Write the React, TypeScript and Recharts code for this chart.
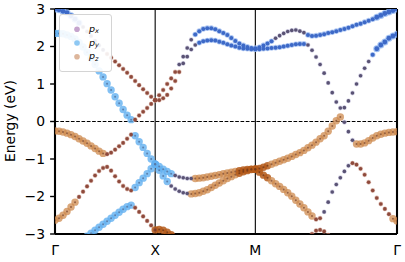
import React from "react";
import { ReferenceLine, Scatter, ScatterChart, XAxis, YAxis } from "recharts";

const FONT = "'DejaVu Sans', sans-serif";

// k-path through the square Brillouin zone
const PATH_LABELS = ["Γ", "X", "M", "Γ"];
const SEG_LENGTHS = [1, 1, Math.SQRT2];
const SEG_STEPS = [25, 25, 35];
const ENERGY_TICKS = [-3, -2, -1, 0, 1, 2, 3];

// Γ → X (26 k-points), energies in eV
const gxA = [3.0, 2.98, 2.94, 2.9, 2.82, 2.73, 2.63, 2.52, 2.4, 2.28, 2.15, 2.03, 1.91, 1.8, 1.7, 1.6, 1.5, 1.4, 1.3, 1.19, 1.08, 0.97, 0.86, 0.76, 0.66, 0.57];
const gxB = [2.35, 2.35, 2.34, 2.31, 2.27, 2.2, 2.11, 1.99, 1.85, 1.69, 1.52, 1.35, 1.19, 1.01, 0.84, 0.66, 0.49, 0.32, 0.17, 0.05, 0.05, 0.16, 0.26, 0.36, 0.47, 0.57];
const gxC = [-0.25, -0.26, -0.28, -0.31, -0.35, -0.4, -0.46, -0.52, -0.58, -0.65, -0.72, -0.79, -0.85, -0.87, -0.83, -0.75, -0.66, -0.57, -0.46, -0.35, -0.38, -0.54, -0.69, -0.85, -1.0, -1.14];
const gxD = [-2.63, -2.58, -2.5, -2.4, -2.28, -2.15, -2.01, -1.87, -1.73, -1.58, -1.44, -1.32, -1.24, -1.21, -1.31, -1.46, -1.6, -1.72, -1.8, -1.84, -1.76, -1.63, -1.51, -1.39, -1.26, -1.14];
const gxE = [null, null, null, null, null, null, null, null, -3.06, -2.98, -2.9, -2.82, -2.74, -2.66, -2.58, -2.5, -2.42, -2.34, -2.27, -2.23, -2.3, -2.41, -2.53, -2.65, -2.77, -2.89];

// X → M (26 k-points)
const xmA = [0.57, 0.7, 0.84, 1.0, 1.15, 1.32, 1.52, 1.73, 1.96, 2.18, 2.32, 2.41, 2.47, 2.49, 2.49, 2.46, 2.41, 2.36, 2.31, 2.23, 2.15, 2.08, 2.03, 1.99, 1.96, 1.95];
const xmB = [0.57, 0.57, 0.62, 0.71, 0.88, 1.08, 1.32, 1.55, 1.73, 1.92, 2.04, 2.1, 2.14, 2.16, 2.17, 2.16, 2.13, 2.1, 2.06, 2.03, 2.0, 1.97, 1.95, 1.94, 1.93, 1.93];
const xmC = [-1.14, -1.2, -1.27, -1.33, -1.39, -1.44, -1.48, -1.5, -1.52, -1.52, -1.52, -1.51, -1.5, -1.48, -1.46, -1.44, -1.42, -1.39, -1.37, -1.35, -1.33, -1.31, -1.29, -1.28, -1.27, -1.27];
const xmD = [-1.14, -1.3, -1.45, -1.6, -1.72, -1.8, -1.86, -1.9, -1.92, -1.93, -1.92, -1.9, -1.86, -1.82, -1.76, -1.7, -1.64, -1.58, -1.52, -1.47, -1.42, -1.38, -1.34, -1.31, -1.28, -1.27];
const xmE = [-2.89, -2.88, -2.9, -2.95, -3.02, -3.1, null, null, null, null, null, null, null, null, null, null, null, null, null, null, null, null, null, null, null, null];

// M → Γ (36 k-points)
const mgA = [1.95, 1.98, 2.03, 2.08, 2.14, 2.22, 2.29, 2.35, 2.4, 2.43, 2.44, 2.41, 2.37, 2.31, 2.28, 2.29, 2.31, 2.33, 2.36, 2.38, 2.41, 2.44, 2.47, 2.5, 2.54, 2.58, 2.61, 2.65, 2.69, 2.73, 2.78, 2.83, 2.88, 2.92, 2.96, 3.0];
const mgB = [1.93, 1.93, 1.94, 1.95, 1.96, 1.97, 1.98, 2.0, 2.02, 2.04, 2.06, 2.07, 2.07, 2.04, 1.9, 1.72, 1.52, 1.29, 1.03, 0.77, 0.52, 0.36, 0.37, 0.55, 0.76, 1.0, 1.22, 1.42, 1.6, 1.78, 1.94, 2.04, 2.12, 2.22, 2.28, 2.33];
const mgC = [-1.27, -1.25, -1.22, -1.18, -1.14, -1.1, -1.06, -1.02, -0.98, -0.93, -0.88, -0.83, -0.77, -0.7, -0.63, -0.55, -0.46, -0.38, -0.26, -0.12, 0.02, 0.12, -0.02, -0.27, -0.5, -0.6, -0.6, -0.57, -0.51, -0.44, -0.38, -0.34, -0.31, -0.29, -0.28, -0.27];
const mgD = [-1.27, -1.35, -1.43, -1.5, -1.58, -1.66, -1.73, -1.81, -1.9, -1.99, -2.1, -2.2, -2.3, -2.41, -2.52, -2.61, -2.58, -2.41, -2.15, -1.88, -1.68, -1.5, -1.33, -1.18, -1.11, -1.15, -1.26, -1.42, -1.62, -1.84, -2.04, -2.2, -2.33, -2.47, -2.59, -2.65];
const mgE = [null, null, null, null, null, null, null, null, null, null, null, null, null, -3.15, -3.0, -2.91, -2.89, -2.93, -3.03, -3.15, null, null, null, null, null, null, null, null, null, null, null, null, null, null, null, null];

// marker looks: [color, radius, opacity] for halo and core
type Look = "py" | "pz" | "pzM" | "mix" | "dk" | "bl" | "blL";
const LOOKS: Record<Look, { halo: [string, number, number]; core: [string, number, number] }> = {
  py: { halo: ["#63b0f0", 3.7, 0.8], core: ["#587aa6", 1.0, 0.9] },
  pz: { halo: ["#cd8a4e", 3.7, 0.75], core: ["#8e5a3c", 1.0, 0.9] },
  pzM: { halo: ["#b45a1a", 3.7, 0.85], core: ["#7a3c18", 1.0, 0.9] },
  mix: { halo: ["#c58c7c", 2.4, 0.6], core: ["#8e4a3c", 1.8, 1] },
  dk: { halo: ["#a9a6cc", 2.4, 0.5], core: ["#5a5374", 1.8, 1] },
  bl: { halo: ["#9dbcf0", 2.8, 0.8], core: ["#3d69c7", 2.0, 1] },
  blL: { halo: ["#8db4f0", 3.5, 0.8], core: ["#3d69c7", 2.4, 1] },
};

type Range = [number, number, Look];
const BANDS: { seg: number; values: (number | null)[]; looks: Range[] }[] = [
  { seg: 0, values: gxA, looks: [[0, 6, "blL"], [7, 12, "dk"], [13, 25, "mix"]] },
  { seg: 0, values: gxB, looks: [[0, 19, "py"], [20, 25, "mix"]] },
  { seg: 0, values: gxC, looks: [[0, 12, "pz"], [13, 19, "mix"], [20, 25, "py"]] },
  { seg: 0, values: gxD, looks: [[0, 5, "pz"], [6, 19, "mix"], [20, 25, "py"]] },
  { seg: 0, values: gxE, looks: [[0, 19, "py"], [20, 25, "mix"]] },
  { seg: 1, values: xmA, looks: [[0, 5, "mix"], [6, 9, "dk"], [10, 25, "bl"]] },
  { seg: 1, values: xmB, looks: [[0, 6, "mix"], [7, 10, "dk"], [11, 25, "bl"]] },
  { seg: 1, values: xmC, looks: [[0, 4, "py"], [5, 9, "dk"], [10, 20, "pz"], [21, 25, "pzM"]] },
  { seg: 1, values: xmD, looks: [[0, 3, "py"], [4, 8, "dk"], [9, 20, "pz"], [21, 25, "pzM"]] },
  { seg: 1, values: xmE, looks: [[0, 25, "pzM"]] },
  { seg: 2, values: mgA, looks: [[0, 4, "bl"], [5, 12, "dk"], [13, 29, "bl"], [30, 35, "blL"]] },
  { seg: 2, values: mgB, looks: [[0, 12, "bl"], [13, 28, "dk"], [29, 29, "bl"], [30, 35, "blL"]] },
  { seg: 2, values: mgC, looks: [[0, 3, "pzM"], [4, 21, "pz"], [22, 24, "dk"], [25, 35, "pz"]] },
  { seg: 2, values: mgD, looks: [[0, 3, "pzM"], [4, 14, "pz"], [15, 16, "mix"], [17, 23, "dk"], [24, 33, "mix"], [34, 35, "pz"]] },
  { seg: 2, values: mgE, looks: [[0, 35, "mix"]] },
];

const SEG_START = SEG_LENGTHS.map((_, i) => SEG_LENGTHS.slice(0, i).reduce((a, b) => a + b, 0));
const K_MAX = SEG_LENGTHS.reduce((a, b) => a + b, 0);
const K_TICKS = [...SEG_START, K_MAX];

const points = BANDS.flatMap((band) =>
  band.values.flatMap((e, i) => {
    if (e == null || Math.abs(e) > 3.2) return [];
    const look = band.looks.find(([a, b]) => i >= a && i <= b)?.[2] ?? "mix";
    const k = SEG_START[band.seg] + (SEG_LENGTHS[band.seg] * i) / SEG_STEPS[band.seg];
    return [{ k, e, look }];
  })
);

function Halo(props: any) {
  const { cx, cy, payload } = props;
  const [fill, r, op] = LOOKS[payload.look as Look].halo;
  return <circle cx={cx} cy={cy} r={r} fill={fill} fillOpacity={op} />;
}

function Core(props: any) {
  const { cx, cy, payload } = props;
  const [fill, r, op] = LOOKS[payload.look as Look].core;
  return <circle cx={cx} cy={cy} r={r} fill={fill} fillOpacity={op} />;
}

const LEGEND = [
  { sub: "x", color: "#c5a4cd" },
  { sub: "y", color: "#8ec8f3" },
  { sub: "z", color: "#ddb69b" },
];

export default function App() {
  const tickStyle = { fontSize: 13.9, fill: "#000", fontFamily: FONT };
  return (
    <div style={{ position: "absolute", left: 0, top: 0, width: 405, height: 262, background: "#fff" }}>
      <ScatterChart width={405} height={262} margin={{ top: 9, right: 8, bottom: 0, left: 0 }}>
        <XAxis
          type="number"
          dataKey="k"
          domain={[0, K_MAX]}
          ticks={K_TICKS}
          interval={0}
          allowDataOverflow
          tickFormatter={(_v: number, i: number) => PATH_LABELS[i]}
          tick={tickStyle}
          tickLine={false}
          tickSize={0}
          tickMargin={11}
          axisLine={false}
          height={28}
        />
        <YAxis
          type="number"
          dataKey="e"
          domain={[-3, 3]}
          ticks={ENERGY_TICKS}
          allowDataOverflow
          tickFormatter={(v: number) => (v < 0 ? `\u2212${-v}` : `${v}`)}
          tick={tickStyle}
          tickLine={{ stroke: "#000", strokeWidth: 1.4 }}
          tickSize={4.9}
          tickMargin={5}
          axisLine={false}
          width={55}
        />
        <Scatter data={points} shape={<Halo />} isAnimationActive={false} />
        <Scatter data={points} shape={<Core />} isAnimationActive={false} />
        <ReferenceLine y={0} stroke="#000" strokeWidth={1} strokeDasharray="3.7 1.6" />
        <ReferenceLine x={1} stroke="#000" strokeWidth={1.1} />
        <ReferenceLine x={2} stroke="#000" strokeWidth={1.1} />
        <ReferenceLine y={3} stroke="#000" strokeWidth={2.1} />
        <ReferenceLine y={-3} stroke="#000" strokeWidth={2.1} />
        <ReferenceLine x={0} stroke="#000" strokeWidth={2.1} />
        <ReferenceLine x={K_MAX} stroke="#000" strokeWidth={2.1} />
      </ScatterChart>
      <svg width={405} height={262} style={{ position: "absolute", left: 0, top: 0, pointerEvents: "none" }}>
        <text
          x={14.5}
          y={121}
          transform="rotate(-90 14.5 121)"
          textAnchor="middle"
          fontSize={13.9}
          fontFamily={FONT}
          fill="#000"
        >
          Energy (eV)
        </text>
        <rect x={59.5} y={14.5} width={52} height={57} rx={2.5} fill="#fff" fillOpacity={0.9} stroke="#d4d4d4" strokeWidth={1} />
        {LEGEND.map((item, i) => (
          <g key={item.sub}>
            <circle cx={77} cy={29.3 + i * 13.7} r={2.8} fill={item.color} />
            <text x={89} y={31.8 + i * 13.7} fontSize={9.5} fontStyle="italic" fontFamily={FONT} fill="#000">
              p
              <tspan fontSize={6.6} dy={1.6}>
                {item.sub}
              </tspan>
            </text>
          </g>
        ))}
      </svg>
    </div>
  );
}
